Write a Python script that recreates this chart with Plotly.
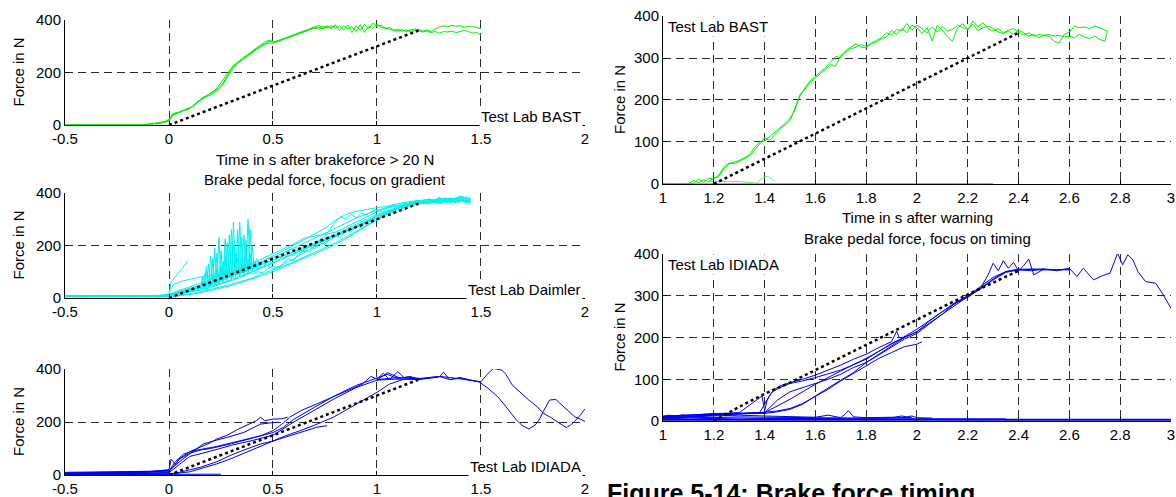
import plotly.graph_objects as go

GREEN = "#00ee00"
CYAN = "#00f0f0"
BLUE = "#0000f0"
FONT = "Liberation Sans, Arial, Helvetica, sans-serif"

# ---------------- left top : Test Lab BAST (time after brakeforce > 20 N)
lt_time = [-0.5, -0.15, -0.12, -0.1, -0.08, -0.06, -0.04, -0.02,
           0, 0.02, 0.04, 0.06, 0.08, 0.1, 0.12, 0.14, 0.16, 0.18, 0.2, 0.22, 0.24,
           0.26, 0.28, 0.3, 0.32, 0.34, 0.36, 0.38, 0.4, 0.42, 0.44, 0.46, 0.48,
           0.5, 0.52, 0.54, 0.56, 0.58, 0.6, 0.62, 0.64, 0.66, 0.68, 0.7, 0.72, 0.74,
           0.76, 0.78, 0.8, 0.82, 0.84, 0.86, 0.88, 0.9, 0.92, 0.94, 0.96, 0.98,
           1.0, 1.02, 1.04, 1.06, 1.08, 1.1, 1.12, 1.14, 1.16, 1.18, 1.2, 1.22, 1.24,
           1.26, 1.28, 1.3, 1.32, 1.34, 1.36, 1.38, 1.4, 1.42, 1.44, 1.46, 1.48, 1.5]
lt_bast_1 = [0, 0, 0, 5, 2, 10, 6, 14,
             18, 40, 46, 52, 58, 63, 74, 86, 104, 112, 118, 128, 142, 160, 188, 214, 232, 246,
             256, 268, 278, 290, 300, 310, 318,
             316, 320, 326, 332, 338, 344, 352, 356, 362, 366, 372, 364, 376, 370, 380, 368,
             376, 362, 380, 352, 378, 360, 384, 366, 388,
             376, 380, 370, 366, 360, 364, 358, 362, 356, 360, 364, 358, 362, 356, 366, 372,
             378, 374, 380, 376, 378, 372, 376, 374, 372, 366]
lt_bast_2 = [0, 0, 2, 0, 8, 3, 12, 10,
             22, 44, 48, 50, 60, 66, 72, 90, 100, 110, 122, 132, 150, 172, 198, 218, 234, 244,
             258, 270, 282, 294, 304, 316, 322,
             318, 316, 322, 330, 334, 340, 348, 354, 358, 368, 374, 380, 368, 378, 366, 382,
             360, 378, 366, 374, 356, 382, 352, 376, 368,
             384, 372, 368, 372, 362, 358, 364, 356, 360, 366, 360, 354, 358, 352, 356, 350,
             356, 354, 358, 352, 356, 360, 356, 350, 352, 342]
lt_bast_3 = [0, 0, 0, 3, 6, 4, 8, 12,
             15, 38, 44, 54, 56, 62, 78, 92, 98, 108, 114, 124, 138, 154, 180, 206, 226, 240,
             252, 264, 276, 286, 296, 306, 312,
             312, 318, 324, 328, 334, 342, 346, 352, 360, 364, 368, 372, 366, 374, 372, 376] + [None] * 35

# ---------------- left middle : Test Lab Daimler
lm_time = [-0.5, -0.4, -0.3, -0.2, -0.1, -0.05, 0, 0.05, 0.1, 0.15, 0.2, 0.25,
           0.3, 0.35, 0.4, 0.45, 0.5, 0.55, 0.6, 0.65, 0.7, 0.75, 0.8, 0.85,
           0.9, 0.95, 1.0, 1.05, 1.1, 1.15, 1.2, 1.25, 1.3, 1.35, 1.4, 1.45]
lm_daimler = [
    [10, 8, 9, 7, 8, 10, 12, 22, 30, 40, 52, 66, 80, 96, 112, 128, 146, 160,
     178, 192, 208, 224, 242, 262, 282, 300, 318, 332, 346, 356, 362, 366, 360, 370, 364, None],
    [6, 5, 7, 6, 5, 6, 8, 15, 24, 34, 44, 56, 70, 84, 100, 118, 136, 152,
     170, 188, 204, 220, 238, 256, 276, 294, 312, 330, 344, 354, 366, 358, 372, 362, 376, 368],
    [8, 9, 6, 8, 7, 9, 14, 26, 38, 50, 60, 72, 88, 104, 120, 138, 154, 172,
     190, 208, 226, 246, 266, 286, 304, 320, 334, 346, 354, 362, 370, 376, 368, 380, 372, 364],
    [5, 6, 5, 7, 6, 7, 10, 20, 32, 46, 60, 76, 92, 108, 126, 142, 160, 180,
     200, 222, 244, 266, 296, 318, 330, 338, 344, 350, 360, 366, 372, 366, 380, 374, 382, 376],
    [7, 6, 8, 5, 6, 4, 6, 10, 16, 24, 32, 42, 52, 64, 76, 92, 106, 122,
     138, 156, 172, 190, 210, 232, 254, 278, 300, 320, 336, 350, 360, 368, 362, 374, 366, None],
    [9, 8, 7, 9, 8, 8, 11, 18, 28, 38, 50, 64, 80, 98, 118, 134, 110, 128,
     150, 174, 196, 212, 234, 254, 272, 292, 312, 328, 342, 356, 364, 372, 378, 370, 384, 372],
    [6, 7, 6, 7, 9, 6, 9, 16, 22, 30, 40, 54, 66, 80, 98, 116, 132, 150,
     168, 186, 202, 218, 236, 252, 270, 288, 306, 326, 342, 358, 368, 362, 376, 366, 370, 360],
    [5, 4, 5, 6, 4, 5, 5, 8, 13, 20, 28, 38, 48, 60, 72, 86, 100, 118,
     134, 152, 168, 186, 204, 226, 250, 276, 298, 322, 340, 352, 358, 366, 374, 380, 372, 366],
    [8, 7, 8, 7, 9, 9, 15, 28, 42, 56, 70, 84, 98, 114, 132, 150, 168, 186,
     206, 228, 236, 242, 250, 270, 290, 310, 328, 342, 352, 360, 370, 376, 364, 372, 388, 380],
]
lm_noisy_time = [0.4, 0.425, 0.45, 0.475, 0.5, 0.525, 0.55, 0.575, 0.6, 0.625, 0.65, 0.675,
                 0.7, 0.725, 0.75, 0.775, 0.8, 0.825, 0.85, 0.875, 0.9, 0.925, 0.95, 0.975,
                 1.0, 1.025, 1.05, 1.075, 1.1, 1.125, 1.15, 1.175, 1.2, 1.225, 1.25, 1.275,
                 1.3, 1.325, 1.35, 1.375, 1.4, 1.425, 1.45]
lm_noisy = [
    [110, 128, 116, 140, 132, 158, 150, 172, 160, 184, 176, 198, 186, 214, 204, 228, 240, 232,
     258, 250, 276, 268, 296, 290, 318, 310, 334, 328, 348, 342, 360, 352, 372, 362, 378, 366,
     384, 370, 378, 362, 380, 368, 374],
    [90, 100, 96, 112, 120, 116, 134, 148, 142, 170, 182, 176, 204, 222, 236, 262, 290, 310,
     300, 318, 306, 322, 316, 330, 338, 326, 344, 352, 340, 356, 348, 366, 372, 358, 376, 364,
     370, 382, 374, 368, 386, 372, 378],
]
lm_spike_time = [0.15, 0.16, 0.17, 0.18, 0.19, 0.2, 0.21, 0.22, 0.23, 0.24, 0.25, 0.26, 0.27,
                 0.28, 0.29, 0.3, 0.31, 0.32, 0.33, 0.34, 0.35, 0.36, 0.37, 0.38, 0.39, 0.4,
                 0.41, 0.42, 0.44]
lm_spikes = [
    [40, 60, 45, 120, 50, 160, 55, 190, 60, 230, 70, 140, 75, 210, 80, 260, 85, 170, 90, 290,
     95, 240, 100, 300, 105, 200, 110, 150, 125],
    [35, 50, 90, 40, 130, 45, 150, 50, 110, 60, 180, 65, 225, 70, 120, 75, 290, 80, 150, 90,
     230, 95, 180, 100, 260, 105, 130, 115, 135],
    [30, 80, 35, 100, 40, 70, 150, 45, 170, 55, 120, 60, 160, 65, 240, 70, 200, 75, 260, 80,
     130, 85, 220, 95, 170, 100, 140, 110, 120],
]
lm_early_x = [0, 0.01, 0.03, 0.05, 0.07, 0.09]
lm_early_y = [15, 62, 80, 100, 120, 140]
lm_early2_x = [0, 0.02, 0.05, 0.1, 0.15, 0.2, 0.25, 0.3]
lm_early2_y = [20, 50, 62, 72, 80, 84, 90, 96]

# ---------------- left bottom : Test Lab IDIADA
lb_traces = [
    ([-0.5, -0.4, -0.3, -0.2, -0.15, -0.1, -0.05, 0], [4, 6, 5, 8, 10, 12, 14, 18]),
    ([-0.5, -0.4, -0.3, -0.2, -0.1, -0.05, 0], [2, 3, 4, 4, 6, 8, 10]),
    ([-0.5, 0, 0.1, 0.25], [1, 2, 3, 3]),
    ([-0.5, -0.3, -0.1, 0, 0.01, 0.03, 0.05, 0.1, 0.15, 0.2, 0.23, 0.28, 0.33, 0.38, 0.42,
      0.44, 0.46, 0.5, 0.54, 0.57],
     [8, 10, 12, 20, 60, 40, 62, 88, 105, 122, 136, 150, 172, 190, 205, 218, 205, 211, 212, 218]),
    ([-0.5, -0.2, 0, 0.05, 0.1, 0.165, 0.22, 0.28, 0.36, 0.4, 0.44, 0.48, 0.52],
     [6, 10, 16, 50, 80, 117, 130, 142, 161, 175, 192, 196, 199]),
    ([-0.5, -0.2, 0, 0.03, 0.07, 0.12, 0.165, 0.22, 0.31, 0.38, 0.44, 0.5, 0.54, 0.58, 0.64,
      0.71, 0.78, 0.84, 0.9, 0.93, 0.97, 1.0, 1.03, 1.06, 1.1, 1.13, 1.16, 1.2],
     [10, 12, 15, 50, 79, 92, 98, 106, 123, 136, 148, 167, 190, 218, 245, 268, 292, 312, 334,
      343, 372, 362, 384, 360, 390, 368, 372, 362]),
    ([-0.5, 0, 0.05, 0.1, 0.15, 0.2, 0.3, 0.4, 0.5, 0.55, 0.6, 0.7, 0.8, 0.9, 0.95, 1.0, 1.05,
      1.1, 1.15, 1.2, 1.25, 1.3, 1.35, 1.4, 1.45, 1.5],
     [5, 12, 60, 82, 94, 100, 118, 140, 160, 180, 210, 256, 300, 338, 352, 368, 380, 364, 370,
      362, 366, 372, 360, 368, 358, 350]),
    ([-0.5, 0, 0.05, 0.1, 0.2, 0.3, 0.4, 0.5, 0.6, 0.7, 0.8, 0.9, 1.0, 1.05, 1.1],
     [3, 8, 40, 70, 90, 112, 130, 150, 200, 244, 290, 330, 358, 386, 370]),
    ([-0.5, 0, 0.05, 0.15, 0.23, 0.31, 0.38, 0.44, 0.5, 0.58, 0.65, 0.71, 0.76],
     [4, 4, 10, 29, 50, 79, 100, 117, 128, 148, 165, 180, 186]),
    ([-0.5, 0, 0.1, 0.23, 0.3, 0.39, 0.45, 0.5, 0.56, 0.63, 0.7, 0.79, 0.85, 0.9, 0.95, 1.0,
      1.06, 1.13, 1.2],
     [2, 3, 12, 42, 62, 92, 112, 130, 148, 167, 188, 218, 244, 268, 290, 312, 343, 362, 366]),
    ([1.0, 1.1, 1.2, 1.3, 1.35, 1.4, 1.45, 1.5, 1.53, 1.56, 1.6, 1.62, 1.65, 1.69, 1.73, 1.77,
      1.8, 1.84, 1.88, 1.91, 1.93, 1.95, 1.98, 2.0],
     [360, 368, 364, 372, 368, 362, 356, 352, 380, 402, 396, 380, 340, 310, 283, 258, 233, 215,
      195, 179, 188, 202, 228, 250]),
    ([1.0, 1.1, 1.2, 1.25, 1.3, 1.32, 1.35, 1.4, 1.45, 1.49, 1.53, 1.58, 1.62, 1.67, 1.7, 1.73,
      1.76, 1.78, 1.8, 1.83, 1.86, 1.88, 1.91, 1.95, 1.98, 2.0],
     [358, 362, 360, 366, 370, 388, 360, 366, 358, 352, 330, 296, 258, 208, 186, 174, 188, 208,
      240, 283, 285, 270, 248, 220, 210, 202]),
]

# ---------------- right top : Test Lab BAST (time after warning)
rt_time = [1.0, 1.1,
           1.12, 1.14, 1.16, 1.18, 1.2, 1.22, 1.24, 1.26, 1.28, 1.3, 1.32, 1.34, 1.36, 1.38,
           1.4, 1.42, 1.44, 1.46, 1.48, 1.5,
           1.52, 1.54, 1.56, 1.58, 1.6, 1.62, 1.64, 1.66, 1.68, 1.7, 1.72, 1.74, 1.76, 1.78,
           1.8, 1.82, 1.84, 1.86, 1.88, 1.9,
           1.92, 1.94, 1.96, 1.98, 2.0, 2.02, 2.04, 2.06, 2.08, 2.1, 2.12, 2.14, 2.16, 2.18,
           2.2, 2.22, 2.24, 2.26, 2.28, 2.3,
           2.32, 2.34, 2.36, 2.38, 2.4, 2.42, 2.44, 2.46, 2.48, 2.5, 2.52, 2.54, 2.56, 2.58,
           2.6, 2.62, 2.64, 2.66, 2.68, 2.7,
           2.72, 2.74, 2.75]
rt_bast_1 = [0, 0,
             2, 12, 4, 14, 12, 22, 40, 50, 48, 54, 60, 66, 80, 96, 110, 104, 118, 130, 140, 150,
             182, 210, 230, 246, 256, 266, 278, 290, 304, 300, 318, 326, 334, 326, 324, 334, 338,
             346, 350, 366,
             356, 370, 360, 378, 372, 358, 372, 340, 378, 366, 350, 340, 372, 382, 366, 388, 374,
             384, 370, 364,
             370, 360, 366, 370, 362, 354, 360, 352, 356, 354, 352, 340, 336, 356, 362, 376, 372,
             374, 370, 376,
             372, 366, 364]
rt_bast_2 = [0, 0,
             8, 3, 10, 6, 14, 18, 36, 48, 52, 56, 62, 70, 86, 100, 102, 112, 124, 134, 144, 156,
             176, 214, 226, 242, 252, 262, 274, 284, 280, 306, 314, 322, 326, 332, 328, 336, 342,
             348, 360, 354,
             368, 364, 382, 366, 378, 370, 360, 374, 362, 376, 364, 368, 378, 372, 370, 380, 366,
             372, 376, 370,
             362, 358, 364, 356, 366, 360, 352, 356, 348, 354, 356, 352, 354, 350, 352, 348, 356,
             350, 346, 352,
             344, 340, 364]
rt_zero_x = [1.0, 1.5, 2.0, 2.3]
rt_zero_y = [0, 0, 0, 0]
rt_small_x = [1.18, 1.25, 1.3, 1.35, 1.37, 1.39, 1.41, 1.43, 1.44]
rt_small_y = [6, 7, 6, 3, 2, 14, 18, 12, 6]

# ---------------- right bottom : Test Lab IDIADA (time after warning)
rb_base_x = [1.0, 1.05, 1.1, 1.2, 1.3, 1.4, 1.5, 1.6, 1.7, 1.8, 1.9, 2.0, 2.2, 2.4, 2.6, 2.8, 3.0]
rb_base_y = [3, 4, 3, 3, 4, 3, 3, 3, 3, 3, 3, 3, 3, 3, 3, 3, 3]
rb_traces = [
    ([1.0, 1.1, 1.2, 1.3, 1.4, 1.5, 1.6, 1.7, 1.8, 1.9, 2.0, 2.1, 2.2, 2.35],
     [6, 5, 6, 7, 6, 6, 5, 6, 5, 5, 6, 5, 5, 5]),
    ([1.0, 1.02, 1.05, 1.08, 1.1, 1.2, 1.3, 1.4, 1.5, 1.6, 1.65, 1.7, 1.72, 1.73, 1.75, 1.8,
      1.9, 1.98],
     [10, 14, 12, 15, 10, 12, 14, 12, 10, 9, 14, 8, 18, 25, 10, 8, 9, 8]),
    ([1.0, 1.1, 1.2, 1.3, 1.4, 1.5, 1.6, 1.8, 1.9, 1.94, 1.96, 1.98, 2.0, 2.06],
     [8, 9, 8, 10, 9, 8, 8, 7, 8, 12, 10, 12, 8, 7]),
    ([1.0, 1.1, 1.2, 1.3, 1.38, 1.4, 1.42, 1.44, 1.46, 1.5, 1.55, 1.6, 1.65, 1.7, 1.75, 1.8,
      1.85, 1.9, 1.92, 1.93],
     [8, 10, 14, 18, 20, 40, 62, 76, 84, 92, 100, 110, 122, 134, 148, 160, 176, 190, 215, 200]),
    ([1.0, 1.2, 1.3, 1.39, 1.4, 1.41, 1.43, 1.46, 1.5, 1.55, 1.6, 1.7, 1.8, 1.9, 2.0, 2.1, 2.2,
      2.25, 2.3, 2.35, 2.4, 2.45, 2.5, 2.55, 2.6],
     [12, 16, 20, 60, 25, 50, 70, 80, 90, 96, 104, 122, 148, 186, 214, 256, 298, 316, 338, 356,
      362, 360, 364, 362, 364]),
    ([1.0, 1.2, 1.4, 1.45, 1.5, 1.55, 1.6, 1.65, 1.7, 1.75, 1.8, 1.85, 1.9, 1.95, 2.0, 2.05,
      2.1, 2.15, 2.2, 2.25, 2.3, 2.35, 2.4, 2.5, 2.6],
     [10, 18, 20, 50, 70, 80, 90, 100, 112, 128, 140, 160, 180, 200, 214, 240, 262, 284, 300,
      318, 340, 358, 364, 362, 362]),
    ([1.0, 1.2, 1.38, 1.45, 1.5, 1.55, 1.6, 1.65, 1.7, 1.75, 1.8, 1.85, 1.9, 1.95, 2.0, 2.02],
     [9, 15, 20, 24, 30, 42, 58, 76, 96, 114, 132, 150, 164, 178, 184, 190]),
    ([1.0, 1.2, 1.4, 1.45, 1.5, 1.55, 1.6, 1.65, 1.7, 1.75, 1.8, 1.85, 1.9, 1.95, 2.0, 2.05,
      2.1, 2.15, 2.2, 2.25, 2.28, 2.3, 2.32, 2.34, 2.36, 2.38, 2.4, 2.42, 2.44, 2.46, 2.5],
     [11, 17, 18, 22, 28, 40, 60, 80, 98, 116, 140, 158, 176, 196, 210, 232, 256, 282, 296, 318,
      350, 378, 360, 384, 366, 380, 360, 372, 388, 350, 364]),
    ([1.0, 1.2, 1.4, 1.5, 1.6, 1.7, 1.8, 1.9, 2.0, 2.1, 2.2, 2.25, 2.3, 2.35, 2.4, 2.45, 2.5,
      2.55, 2.6, 2.63, 2.655, 2.695, 2.73, 2.76, 2.77, 2.79, 2.81, 2.83, 2.85, 2.87, 2.9, 2.94,
      2.97, 3.0],
     [7, 14, 20, 52, 88, 120, 150, 184, 220, 262, 300, 322, 344, 358, 362, 364, 364, 360, 366,
      346, 366, 338, 348, 354, 370, 402, 374, 398, 386, 358, 334, 330, 302, 270]),
]

# ---------------- reference gradient lines (dotted)
grad_left_x = [0, 1.2]
grad_left_y = [0, 360]
grad_rt_x = [1.2, 2.4]
grad_rt_y = [0, 360]
grad_rb_x = [1.2, 1.3, 1.4, 1.5, 1.6, 1.8, 2.0, 2.2, 2.4]
grad_rb_y = [0, 34, 65, 92, 122, 182, 244, 303, 360]

left_ticks = [-0.5, 0, 0.5, 1, 1.5, 2]
left_ticktext = ["-0.5", "0", "0.5", "1", "1.5", "2"]
right_ticks = [1, 1.2, 1.4, 1.6, 1.8, 2, 2.2, 2.4, 2.6, 2.8, 3]
right_ticktext = ["1", "1.2", "1.4", "1.6", "1.8", "2", "2.2", "2.4", "2.6", "2.8", "3"]

fig = go.Figure()


def line(x, y, color, ax, width=1.0, dash=None):
    fig.add_trace(go.Scatter(x=x, y=y, mode="lines", xaxis="x" + ax, yaxis="y" + ax,
                             line=dict(color=color, width=width, dash=dash),
                             showlegend=False, hoverinfo="skip"))


# left top
for tr in (lt_bast_1, lt_bast_2, lt_bast_3):
    line(lt_time, tr, GREEN, "")
line(grad_left_x, grad_left_y, "black", "", 2.5, "dot")
# left middle
for tr in lm_daimler:
    line(lm_time, tr, CYAN, "2")
for tr in lm_noisy:
    line(lm_noisy_time, tr, CYAN, "2")
for tr in lm_spikes:
    line(lm_spike_time, tr, CYAN, "2")
line(lm_early_x, lm_early_y, CYAN, "2")
line(lm_early2_x, lm_early2_y, CYAN, "2")
line(grad_left_x, grad_left_y, "black", "2", 2.5, "dot")
# left bottom
for x, y in lb_traces:
    line(x, y, BLUE, "3")
line(grad_left_x, grad_left_y, "black", "3", 2.5, "dot")
# right top
line(rt_zero_x, rt_zero_y, GREEN, "4", 1.5)
line(rt_small_x, rt_small_y, "#66ee66", "4")
line(rt_time, rt_bast_1, GREEN, "4")
line(rt_time, rt_bast_2, GREEN, "4")
line(grad_rt_x, grad_rt_y, "black", "4", 2.5, "dot")
# right bottom
line(rb_base_x, rb_base_y, BLUE, "5", 2.2)
for x, y in rb_traces:
    line(x, y, BLUE, "5")
line(grad_rb_x, grad_rb_y, "black", "5", 2.5, "dot")

GRID = "#2a2a2a"
TICKFONT = dict(family=FONT, size=15, color="black")


def xax(domain, anchor, rng, tv, tt):
    return dict(domain=domain, anchor=anchor, range=rng, tickvals=tv, ticktext=tt,
                showline=True, linecolor="black", linewidth=1, mirror=False,
                showgrid=True, gridcolor=GRID, gridwidth=1, griddash="8px,5px",
                ticks="inside", ticklen=4, tickcolor="black", zeroline=False,
                tickfont=TICKFONT, fixedrange=True, automargin=False)


def yax(domain, anchor, tv):
    return dict(domain=domain, anchor=anchor, range=[0, 400], tickvals=tv,
                ticktext=[str(v) for v in tv],
                showline=True, linecolor="black", linewidth=1, mirror=False,
                showgrid=True, gridcolor=GRID, gridwidth=1, griddash="8px,5px",
                ticks="inside", ticklen=4, tickcolor="black", zeroline=False,
                tickfont=TICKFONT, fixedrange=True, automargin=False)


LX = [0.0553, 0.4974]
RX = [0.5638, 0.9957]
fig.update_layout(
    width=1176, height=497, margin=dict(l=0, r=0, t=0, b=0, pad=0, autoexpand=False),
    paper_bgcolor="white", plot_bgcolor="white",
    font=dict(family=FONT, size=15, color="black"),
    xaxis=xax(LX, "y", [-0.5, 2], left_ticks, left_ticktext),
    yaxis=yax([0.7485, 0.9598], "x", [0, 200, 400]),
    xaxis2=xax(LX, "y2", [-0.5, 2], left_ticks, left_ticktext),
    yaxis2=yax([0.4004, 0.6117], "x2", [0, 200, 400]),
    xaxis3=xax(LX, "y3", [-0.5, 2], left_ticks, left_ticktext),
    yaxis3=yax([0.0443, 0.2575], "x3", [0, 200, 400]),
    xaxis4=xax(RX, "y4", [1, 3], right_ticks, right_ticktext),
    yaxis4=yax([0.6298, 0.9678], "x4", [0, 100, 200, 300, 400]),
    xaxis5=xax(RX, "y5", [1, 3], right_ticks, right_ticktext),
    yaxis5=yax([0.1529, 0.4889], "x5", [0, 100, 200, 300, 400]),
)

ann = []


def text(t, x, y, xanchor="center", yanchor="middle", angle=0, size=15, bold=False):
    ann.append(dict(text=("<b>%s</b>" % t) if bold else t, x=x, y=y, xref="paper", yref="paper",
                    xanchor=xanchor, yanchor=yanchor, textangle=angle, showarrow=False,
                    font=dict(family=FONT, size=size, color="black")))


# y axis titles
for yc in ((0.7485 + 0.9598) / 2, (0.4004 + 0.6117) / 2, (0.0443 + 0.2575) / 2):
    text("Force in N", 18 / 1176, yc, angle=-90)
for yc in ((0.6298 + 0.9678) / 2, (0.1529 + 0.4889) / 2):
    text("Force in N", 620 / 1176, yc, angle=-90)
text("Time in s after brakeforce > 20 N", 325 / 1176, 1 - 159 / 497)
text("Brake pedal force, focus on gradient", 325 / 1176, 1 - 179 / 497)
text("Time in s after warning", 917 / 1176, 1 - 217 / 497)
text("Brake pedal force, focus on timing", 917 / 1176, 1 - 238 / 497)
text("Figure 5-14: Brake force timing", 605 / 1176, 1 - 477 / 497, xanchor="left",
     yanchor="top", size=25, bold=True)


def lab(t, ax, corner):
    if corner == "br":
        ann.append(dict(text=t, xref=ax[0] + " domain", yref=ax[1] + " domain", x=1, y=0,
                        xanchor="right", yanchor="bottom", xshift=-2, yshift=-2, showarrow=False,
                        bgcolor="white", borderpad=1,
                        font=dict(family=FONT, size=15, color="black")))
    else:
        ann.append(dict(text=t, xref=ax[0] + " domain", yref=ax[1] + " domain", x=0, y=1,
                        xanchor="left", yanchor="top", xshift=3, yshift=0, showarrow=False,
                        bgcolor="white", borderpad=1,
                        font=dict(family=FONT, size=15, color="black")))


lab("Test Lab BAST", ("x", "y"), "br")
lab("Test Lab Daimler", ("x2", "y2"), "br")
lab("Test Lab IDIADA", ("x3", "y3"), "br")
lab("Test Lab BAST", ("x4", "y4"), "tl")
lab("Test Lab IDIADA", ("x5", "y5"), "tl")

fig.update_layout(annotations=ann)
fig.write_html("out.html")
